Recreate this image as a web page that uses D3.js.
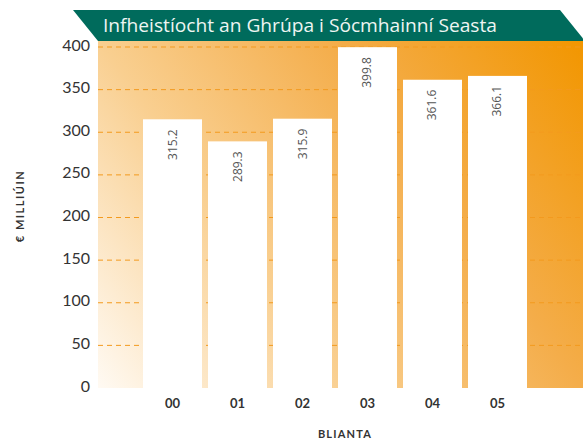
<!DOCTYPE html>
<html>
<head>
<meta charset="utf-8">
<script src="https://cdn.jsdelivr.net/npm/d3@7"></script>
<style>
  body { margin: 0; background: #fff; }
</style>
</head>
<body>
<div id="chart"></div>
<script>
// chart data
const years = ["00", "01", "02", "03", "04", "05"];
const values = [315.2, 289.3, 315.9, 399.8, 361.6, 366.1];
const yTicks = [0, 50, 100, 150, 200, 250, 300, 350, 400];
const title = "Infheistíocht an Ghrúpa i Sócmhainní Seasta";

const width = 583;
const height = 441;

const svg = d3.select("#chart").append("svg")
    .attr("width", width).attr("height", height);

const plotLeft = 98, plotRight = 583, plotTop = 41, plotBottom = 388;

// gradient background, bottom-left to top-right
const defs = svg.append("defs");
const grad = defs.append("linearGradient")
    .attr("id", "bg")
    .attr("gradientUnits", "userSpaceOnUse")
    .attr("x1", plotLeft).attr("y1", plotBottom)
    .attr("x2", plotRight).attr("y2", plotTop);
grad.append("stop").attr("offset", 0).attr("stop-color", "#fffaf3");
grad.append("stop").attr("offset", 0.34).attr("stop-color", "#f9cf90");
grad.append("stop").attr("offset", 0.66).attr("stop-color", "#f4ad4a");
grad.append("stop").attr("offset", 1).attr("stop-color", "#f29600");

svg.append("rect")
    .attr("x", plotLeft).attr("y", plotTop)
    .attr("width", plotRight - plotLeft).attr("height", plotBottom - plotTop)
    .attr("fill", "url(#bg)");

const y = d3.scaleLinear().domain([0, 400]).range([388, 47]);
const x = d3.scaleBand().domain(years).range([143, 527]).paddingInner(0.0923).paddingOuter(0);

// dashed grid lines
svg.append("g").selectAll("line")
    .data(yTicks.filter(d => d > 0))
    .join("line")
    .attr("x1", plotLeft).attr("x2", plotRight)
    .attr("y1", d => y(d)).attr("y2", d => y(d))
    .attr("stroke", "#f39a1e")
    .attr("stroke-width", 1)
    .attr("stroke-dasharray", "5,4");

// bars
svg.append("g").selectAll("rect")
    .data(values)
    .join("rect")
    .attr("x", (d, i) => x(years[i]))
    .attr("y", d => y(d))
    .attr("width", x.bandwidth())
    .attr("height", d => y(0) - y(d))
    .attr("fill", "#ffffff");

// value labels, rotated
svg.append("g").selectAll("text")
    .data(values)
    .join("text")
    .attr("transform", (d, i) => `translate(${x(years[i]) + x.bandwidth() / 2 + 4},${y(d) + 10}) rotate(-90)`)
    .attr("text-anchor", "end")
    .attr("font-family", "'Open Sans', sans-serif")
    .attr("font-size", 12)
    .attr("fill", "#555")
    .text(d => d.toFixed(1));

// y axis tick labels
svg.append("g").selectAll("text")
    .data(yTicks)
    .join("text")
    .attr("x", 90)
    .attr("y", d => y(d) - 2)
    .attr("dy", "0.35em")
    .attr("text-anchor", "end")
    .attr("font-family", "Lato, sans-serif")
    .attr("font-size", 16)
    .attr("fill", "#333")
    .text(d => d);

// x axis labels
svg.append("g").selectAll("text")
    .data(years)
    .join("text")
    .attr("x", d => x(d) + x.bandwidth() / 2)
    .attr("y", 408)
    .attr("text-anchor", "middle")
    .attr("font-family", "Lato, sans-serif")
    .attr("font-weight", "bold")
    .attr("font-size", 13)
    .attr("fill", "#333")
    .text(d => d);

// axis titles
svg.append("text")
    .attr("x", 345).attr("y", 438)
    .attr("text-anchor", "middle")
    .attr("font-family", "Lato, sans-serif")
    .attr("font-weight", "bold")
    .attr("font-size", 11)
    .attr("letter-spacing", 1.2)
    .attr("fill", "#333")
    .text("BLIANTA");

svg.append("text")
    .attr("transform", "translate(24,206) rotate(-90)")
    .attr("text-anchor", "middle")
    .attr("font-family", "Lato, sans-serif")
    .attr("font-weight", "bold")
    .attr("font-size", 11)
    .attr("letter-spacing", 1.5)
    .attr("fill", "#333")
    .text("€ MILLIÚIN");

// title banner
svg.append("polygon")
    .attr("points", "73,10 560,10 585,41 98,41")
    .attr("fill", "#006b5c");

svg.append("text")
    .attr("x", 103).attr("y", 32)
    .attr("font-family", "'Open Sans', sans-serif")
    .attr("font-size", 19)
    .attr("fill", "#eef5f2")
    .attr("textLength", 394)
    .attr("lengthAdjust", "spacingAndGlyphs")
    .text(title);
</script>
</body>
</html>
